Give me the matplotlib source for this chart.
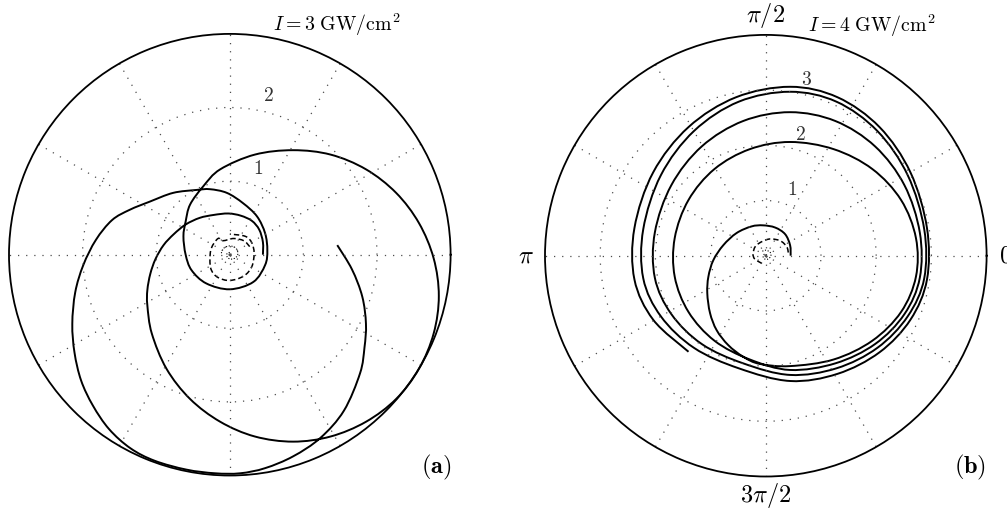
import numpy as np
import matplotlib
matplotlib.use('Agg')
import matplotlib.pyplot as plt
from matplotlib.path import Path
from matplotlib.patches import PathPatch

matplotlib.rc('mathtext', fontset='cm')
matplotlib.rc('font', family='serif', size=12)

# complex field trajectories (real, imaginary parts), I = 3 GW/cm^2
a_solid_re = [0.45, 0.45, 0.40, 0.30, 0.15, -0.02, -0.22, -0.41, -0.60, -0.76, -0.90, -1.01, -1.08, -1.12, -1.12,
              -1.06, -0.86, -0.54, -0.13, 0.34, 0.86, 1.37, 1.85, 2.26, 2.57, 2.77, 2.84, 2.77, 2.57, 2.26, 1.85,
              1.37, 0.86, 0.34, -0.13,
              -0.36, -0.54, -0.60, -0.63, -0.60, -0.52, -0.32, 0.00, 0.32, 0.48, 0.51, 0.48, 0.37, 0.18, -0.04,
              -0.27, -0.45, -0.77, -1.09, -1.36,
              -1.60, -1.82, -1.99, -2.10, -2.14, -2.11, -2.02, -1.86, -1.64, -1.35, -1.02, -0.59, -0.20, 0.14,
              0.48, 0.86, 1.23, 1.55, 1.77, 1.83, 1.85, 1.80, 1.66, 1.46]
a_solid_im = [0.00, 0.17, 0.34, 0.46, 0.53, 0.56, 0.54, 0.50, 0.41, 0.28, 0.13, -0.06, -0.26, -0.48, -0.69,
              -1.07, -1.55, -1.96, -2.27, -2.47, -2.54, -2.47, -2.27, -1.96, -1.55, -1.07, -0.56, -0.05, 0.43,
              0.84, 1.16, 1.36, 1.42, 1.36, 1.16,
              0.93, 0.68, 0.45, 0.25, 0.00, -0.21, -0.39, -0.47, -0.37, -0.14, 0.06, 0.29, 0.52, 0.70, 0.84,
              0.89, 0.88, 0.84, 0.72, 0.61,
              0.47, 0.20, -0.14, -0.51, -0.94, -1.33, -1.71, -2.05, -2.37, -2.63, -2.80, -2.92, -2.97, -2.97,
              -2.90, -2.74, -2.49, -2.12, -1.61, -1.26, -0.94, -0.57, -0.20, 0.13]
a_dash_re = [0.27, 0.19, 0.05, -0.09, -0.16, -0.25, -0.27, -0.25, -0.16, 0.00, 0.19, 0.30, 0.33, 0.30, 0.21, 0.00]
a_dash_im = [0.11, 0.19, 0.22, 0.19, 0.22, 0.09, -0.07, -0.21, -0.31, -0.35, -0.29, -0.16, 0.02, 0.16, 0.25, 0.28]
a_dot_re = [0.02, 0.00, -0.04, -0.03, 0.02, 0.08, 0.11, 0.08, 0.00, -0.08, -0.12]
a_dot_im = [0.00, 0.03, 0.01, -0.04, -0.06, -0.04, 0.02, 0.09, 0.12, 0.09, 0.01]

# I = 4 GW/cm^2
b_solid_re = [0.45, 0.44, 0.35, 0.17, -0.05, -0.26, -0.53, -0.77, -0.95, -1.04, -1.06, -1.01, -0.89, -0.68,
              -0.41, -0.11,
              0.44, 1.23, 1.93, 2.45, 2.72, 2.72, 2.45, 1.93, 1.23, 0.44, -0.29, -0.93, -1.40, -1.65, -1.65,
              -1.40, -0.93, -0.29,
              0.44, 1.26, 1.98, 2.51, 2.79, 2.79, 2.51, 1.98, 1.26, 0.44, -0.41, -1.16, -1.71, -2.01, -2.01,
              -1.71, -1.16, -0.41,
              0.44, 1.28, 2.02, 2.57, 2.87, 2.87, 2.57, 2.02, 1.28, 0.44, -0.49, -1.30, -1.90, -2.22, -2.22,
              -1.90, -1.30, -0.49,
              0.44, 1.30, 2.06, 2.62, 2.92, 2.92, 2.62, 2.06, 1.30, 0.44, -0.54, -1.40, -2.04, -2.38, -2.38,
              -2.04, -1.40]
b_solid_im = [0.00, 0.19, 0.39, 0.51, 0.55, 0.53, 0.41, 0.19, -0.08, -0.38, -0.68, -1.04, -1.35, -1.62,
              -1.83, -1.96,
              -2.00, -1.88, -1.54, -1.02, -0.38, 0.32, 1.01, 1.57, 1.93, 2.06, 1.93, 1.57, 1.01, 0.32, -0.38,
              -1.02, -1.54, -1.88,
              -2.07, -1.95, -1.60, -1.06, -0.40, 0.42, 1.28, 1.98, 2.44, 2.60, 2.44, 1.98, 1.28, 0.42, -0.40,
              -1.06, -1.60, -1.95,
              -2.16, -2.04, -1.67, -1.10, -0.41, 0.48, 1.46, 2.26, 2.79, 2.97, 2.79, 2.26, 1.46, 0.48, -0.41,
              -1.10, -1.67, -2.04,
              -2.27, -2.14, -1.75, -1.16, -0.43, 0.50, 1.51, 2.33, 2.87, 3.06, 2.87, 2.33, 1.51, 0.50, -0.43,
              -1.16, -1.74]
b_dash_re = [-0.07, -0.20, -0.23, -0.17, 0.05, 0.26, 0.38, 0.41]
b_dash_im = [-0.14, -0.06, 0.04, 0.19, 0.30, 0.27, 0.16, 0.04]
b_dot_re = [0.02, -0.02, -0.05, -0.02, 0.04, 0.09, 0.08, 0.00, -0.09]
b_dot_im = [0.01, 0.03, -0.01, -0.06, -0.06, -0.01, 0.06, 0.10, 0.07]

r_max = [3, 4]
r_ticks = [[1, 2], [1, 2, 3]]
r_label_pos = [[(71.6, 1.22), (76.3, 2.22)], [(68.5, 1.28), (74.2, 2.27), (76.9, 3.27)]]
titles = [r'$I = 3\ \mathrm{GW/cm^2}$', r'$I = 4\ \mathrm{GW/cm^2}$']
panel_tags = [r'$\mathbf{(a)}$', r'$\mathbf{(b)}$']
angle_labels = [(0, '$0$'), (90, r'$\pi/2$'), (180, r'$\pi$'), (270, r'$3\pi/2$')]


def curve(re, im):
    # smooth cubic path through the points, vertices given as (theta, r)
    p = np.column_stack([re, im]).astype(float)
    ext = np.vstack([p[0], p, p[-1]])
    verts = [p[0]]
    codes = [Path.MOVETO]
    for k in range(len(p) - 1):
        verts.append(p[k] + (ext[k + 2] - ext[k]) / 6)
        verts.append(p[k + 1] - (ext[k + 3] - ext[k + 1]) / 6)
        verts.append(p[k + 1])
        codes += [Path.CURVE4] * 3
    verts = np.array(verts)
    th = np.arctan2(verts[:, 1], verts[:, 0])
    r = np.hypot(verts[:, 0], verts[:, 1])
    return Path(np.column_stack([th, r]), codes)


fig = plt.figure(figsize=(10.07, 5.13), dpi=100)
axes = [fig.add_axes([9 / 1007, 37.5 / 513, 441.6 / 1007, 441.6 / 513], projection='polar'),
        fig.add_axes([545 / 1007, 36.5 / 513, 441.6 / 1007, 441.6 / 513], projection='polar')]

data = [(a_solid_re, a_solid_im, a_dash_re, a_dash_im, a_dot_re, a_dot_im),
        (b_solid_re, b_solid_im, b_dash_re, b_dash_im, b_dot_re, b_dot_im)]

for i, ax in enumerate(axes):
    sr, si, dr, di, pr, pim = data[i]
    ax.add_patch(PathPatch(curve(sr, si), fc='none', ec='black', lw=1.4, clip_on=False))
    ax.add_patch(PathPatch(curve(dr, di), fc='none', ec='black', lw=1.1, linestyle=(0, (3.5, 2)),
                           clip_on=False))
    ax.add_patch(PathPatch(curve(pr, pim), fc='none', ec='black', lw=0.8, linestyle=(0, (1, 1.5)),
                           clip_on=False))

    ax.set_rlim(0, r_max[i])
    ax.set_rticks(r_ticks[i])
    ax.set_thetagrids(range(0, 360, 30))
    ax.set_xticklabels([])
    ax.set_yticklabels([])
    ax.grid(True, color='0.3', lw=0.9, linestyle=(0, (1, 5.5)))
    ax.spines['polar'].set_linewidth(1.3)
    ax.spines['polar'].set_color('black')
    for k, (ang, rr) in enumerate(r_label_pos[i]):
        ax.text(np.deg2rad(ang), rr, '$%d$' % r_ticks[i][k], ha='center', va='center', fontsize=14,
                color='0.2')

for deg, lab in angle_labels:
    axes[1].text(np.deg2rad(deg), 4.35, lab, ha='center', va='center', fontsize=17.5, clip_on=False)

fig.text(337 / 1007, 1 - 25 / 513, titles[0], ha='center', va='center', fontsize=14.3)
fig.text(872 / 1007, 1 - 26 / 513, titles[1], ha='center', va='center', fontsize=14.3)
fig.text(435.8 / 1007, 1 - 467.5 / 513, panel_tags[0], ha='center', va='center', fontsize=17.5)
fig.text(970 / 1007, 1 - 467.5 / 513, panel_tags[1], ha='center', va='center', fontsize=17.5)

fig.savefig('out.png', dpi=100)
